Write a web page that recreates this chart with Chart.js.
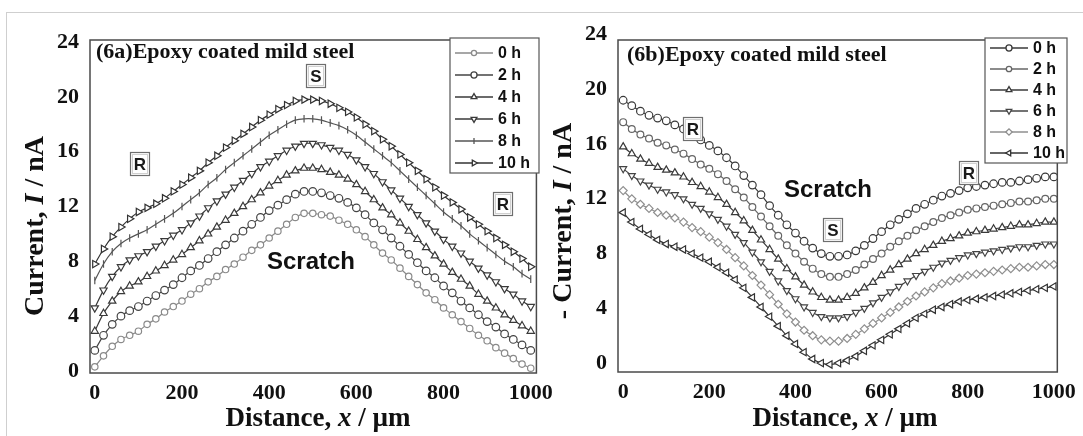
<!DOCTYPE html>
<html>
<head>
<meta charset="utf-8">
<script src="https://cdn.jsdelivr.net/npm/chart.js@4"></script>
<style>
  body { margin: 0; background: #fff; }
  #wrap { position: relative; width: 1083px; height: 436px; overflow: hidden; background: #fff; }
  #frame { position: absolute; left: 6px; top: 12px; width: 1100px; height: 500px; border: 1px solid #cfcfcf; }
  canvas { position: absolute; top: 0; }
</style>
</head>
<body>
<div id="wrap">
  <div id="frame"></div>
  <canvas id="chartA" width="560" height="436" style="left:0px"></canvas>
  <canvas id="chartB" width="538" height="436" style="left:545px"></canvas>
</div>
<script>
// distance along the scan, µm
const distance = [0, 20, 40, 60, 80, 100, 120, 140, 160, 180, 200, 220, 240, 260, 280, 300, 320, 340, 360, 380,
  400, 420, 440, 460, 480, 500, 520, 540, 560, 580, 600, 620, 640, 660, 680, 700, 720, 740, 760, 780,
  800, 820, 840, 860, 880, 900, 920, 940, 960, 980, 1000];
const hours = ["0 h", "2 h", "4 h", "6 h", "8 h", "10 h"];
const yTicks = [0, 4, 8, 12, 16, 20, 24];
const xTicks = [0, 200, 400, 600, 800, 1000];

// (6a) current, nA
const a0h = [0.3, 1.1, 1.8, 2.3, 2.6, 2.9, 3.4, 3.8, 4.3, 4.7, 5.1, 5.6, 6.0, 6.5, 6.9, 7.4, 7.8, 8.3, 8.8, 9.2,
  9.7, 10.2, 10.7, 11.2, 11.5, 11.5, 11.4, 11.3, 11.0, 10.7, 10.3, 9.8, 9.2, 8.6, 8.1, 7.5, 6.9, 6.3, 5.7, 5.2,
  4.6, 4.1, 3.6, 3.1, 2.6, 2.2, 1.7, 1.3, 0.9, 0.5, 0.2];
const a2h = [1.5, 2.6, 3.4, 4.0, 4.4, 4.7, 5.1, 5.5, 5.9, 6.3, 6.8, 7.3, 7.7, 8.2, 8.7, 9.2, 9.7, 10.2, 10.7, 11.2,
  11.7, 12.1, 12.5, 12.9, 13.1, 13.1, 13.0, 12.8, 12.6, 12.3, 11.9, 11.4, 10.8, 10.3, 9.7, 9.1, 8.5, 7.9, 7.3, 6.8,
  6.2, 5.7, 5.1, 4.6, 4.1, 3.6, 3.2, 2.7, 2.3, 1.9, 1.5];
const a4h = [2.9, 4.2, 5.1, 5.8, 6.2, 6.5, 6.9, 7.3, 7.7, 8.1, 8.5, 9.0, 9.5, 10.0, 10.5, 11.0, 11.5, 12.0, 12.5, 13.0,
  13.5, 13.9, 14.3, 14.6, 14.8, 14.8, 14.7, 14.5, 14.3, 14.0, 13.6, 13.1, 12.5, 11.9, 11.4, 10.8, 10.2, 9.6, 9.0, 8.4,
  7.8, 7.2, 6.7, 6.2, 5.6, 5.1, 4.6, 4.1, 3.7, 3.3, 2.9];
const a6h = [4.6, 5.9, 6.9, 7.6, 8.1, 8.4, 8.7, 9.1, 9.5, 9.9, 10.3, 10.8, 11.3, 11.9, 12.4, 12.9, 13.4, 13.9, 14.4, 14.9,
  15.3, 15.7, 16.1, 16.4, 16.6, 16.6, 16.5, 16.3, 16.1, 15.8, 15.4, 14.9, 14.4, 13.8, 13.2, 12.6, 12.0, 11.4, 10.8, 10.2,
  9.6, 9.1, 8.6, 8.0, 7.5, 7.0, 6.5, 6.0, 5.6, 5.1, 4.7];
const a8h = [6.6, 7.8, 8.7, 9.3, 9.7, 10.0, 10.3, 10.7, 11.1, 11.5, 12.0, 12.5, 13.0, 13.6, 14.1, 14.7, 15.2, 15.7, 16.2, 16.7,
  17.2, 17.6, 18.0, 18.3, 18.4, 18.4, 18.3, 18.1, 17.9, 17.6, 17.2, 16.7, 16.2, 15.7, 15.2, 14.6, 14.0, 13.4, 12.8, 12.2,
  11.6, 11.1, 10.6, 10.0, 9.5, 9.0, 8.5, 8.0, 7.6, 7.1, 6.7];
const a10h = [7.8, 8.9, 9.8, 10.5, 11.1, 11.6, 11.9, 12.2, 12.6, 13.1, 13.6, 14.1, 14.6, 15.2, 15.7, 16.3, 16.8, 17.3, 17.8, 18.3,
  18.7, 19.1, 19.4, 19.7, 19.8, 19.8, 19.7, 19.5, 19.2, 18.9, 18.5, 18.0, 17.5, 16.9, 16.4, 15.8, 15.2, 14.6, 14.0, 13.4,
  12.8, 12.3, 11.8, 11.2, 10.7, 10.2, 9.7, 9.2, 8.7, 8.2, 7.6];

// (6b) -current, nA
const b0h = [19.2, 18.8, 18.4, 18.1, 17.9, 17.7, 17.4, 17.1, 16.7, 16.3, 15.9, 15.5, 15.0, 14.4, 13.7, 13.0, 12.3, 11.5, 10.8, 10.1,
  9.5, 8.9, 8.4, 8.0, 7.8, 7.8, 7.9, 8.2, 8.6, 9.1, 9.6, 10.1, 10.5, 10.9, 11.3, 11.6, 11.9, 12.2, 12.4, 12.6,
  12.8, 12.9, 13.0, 13.1, 13.2, 13.2, 13.3, 13.4, 13.5, 13.6, 13.6];
const b2h = [17.6, 17.1, 16.7, 16.4, 16.1, 15.9, 15.6, 15.3, 14.9, 14.5, 14.2, 13.8, 13.3, 12.7, 12.1, 11.4, 10.7, 10.0, 9.3, 8.6,
  8.0, 7.4, 6.9, 6.5, 6.3, 6.3, 6.5, 6.8, 7.2, 7.6, 8.0, 8.5, 8.9, 9.3, 9.7, 10.0, 10.3, 10.6, 10.8, 11.0,
  11.2, 11.3, 11.4, 11.5, 11.6, 11.7, 11.8, 11.8, 11.9, 12.0, 12.0];
const b4h = [15.8, 15.3, 14.9, 14.6, 14.3, 14.1, 13.9, 13.6, 13.2, 12.9, 12.5, 12.1, 11.6, 11.0, 10.4, 9.7, 9.0, 8.3, 7.6, 6.9,
  6.3, 5.7, 5.2, 4.8, 4.6, 4.6, 4.8, 5.1, 5.5, 5.9, 6.4, 6.8, 7.2, 7.6, 8.0, 8.3, 8.6, 8.9, 9.1, 9.3,
  9.5, 9.6, 9.7, 9.8, 9.9, 10.0, 10.1, 10.1, 10.2, 10.3, 10.3];
const b6h = [14.2, 13.7, 13.3, 13.0, 12.7, 12.5, 12.3, 12.0, 11.6, 11.3, 10.9, 10.5, 10.0, 9.4, 8.8, 8.1, 7.4, 6.7, 6.0, 5.3,
  4.7, 4.1, 3.7, 3.4, 3.3, 3.3, 3.4, 3.7, 4.0, 4.4, 4.8, 5.2, 5.6, 6.0, 6.4, 6.7, 7.0, 7.3, 7.5, 7.7,
  7.9, 8.0, 8.1, 8.2, 8.3, 8.4, 8.5, 8.5, 8.6, 8.7, 8.7];
const b8h = [12.6, 12.0, 11.6, 11.3, 11.0, 10.8, 10.6, 10.3, 9.9, 9.6, 9.2, 8.8, 8.3, 7.7, 7.1, 6.4, 5.7, 5.0, 4.3, 3.6,
  3.0, 2.4, 2.0, 1.7, 1.6, 1.6, 1.8, 2.1, 2.5, 2.9, 3.3, 3.7, 4.1, 4.5, 4.9, 5.2, 5.5, 5.8, 6.0, 6.2,
  6.4, 6.5, 6.6, 6.7, 6.8, 6.9, 7.0, 7.0, 7.1, 7.2, 7.2];
const b10h = [11.0, 10.3, 9.8, 9.4, 9.0, 8.7, 8.5, 8.3, 8.0, 7.7, 7.4, 7.0, 6.6, 6.1, 5.5, 4.8, 4.1, 3.4, 2.7, 2.0,
  1.4, 0.8, 0.3, 0.0, -0.1, 0.0, 0.2, 0.5, 0.9, 1.3, 1.7, 2.1, 2.5, 2.9, 3.3, 3.6, 3.9, 4.1, 4.3, 4.5,
  4.6, 4.7, 4.8, 4.9, 5.0, 5.1, 5.2, 5.3, 5.4, 5.5, 5.6];

const seriesA = [a0h, a2h, a4h, a6h, a8h, a10h];
const seriesB = [b0h, b2h, b4h, b6h, b8h, b10h];

// marker styles per hour
const stylesA = [
  { color: "#8a8a8a", point: "circle", rot: 0, r: 3.2 },
  { color: "#444", point: "circle", rot: 0, r: 3.8 },
  { color: "#3a3a3a", point: "triangle", rot: 0, r: 4.2 },
  { color: "#3a3a3a", point: "triangle", rot: 180, r: 4.2 },
  { color: "#555", point: "line", rot: 90, r: 3.8 },
  { color: "#333", point: "triangle", rot: 90, r: 4.2 },
];
const stylesB = [
  { color: "#3a3a3a", point: "circle", rot: 0, r: 3.8 },
  { color: "#666", point: "circle", rot: 0, r: 3.4 },
  { color: "#3a3a3a", point: "triangle", rot: 0, r: 4.2 },
  { color: "#444", point: "triangle", rot: 180, r: 4.0 },
  { color: "#8f8f8f", point: "rectRot", rot: 0, r: 4.0 },
  { color: "#333", point: "triangle", rot: 270, r: 4.2 },
];

const serif = '"Liberation Serif", "Times New Roman", serif';
const sans = '"Liberation Sans", Arial, sans-serif';

function drawRich(ctx, parts, x, y, vertical, size) {
  ctx.save();
  ctx.translate(x, y);
  if (vertical) ctx.rotate(-Math.PI / 2);
  ctx.textBaseline = "middle";
  ctx.textAlign = "left";
  let total = 0;
  parts.forEach(p => {
    ctx.font = (p.i ? "italic " : "") + "bold " + size + "px " + serif;
    p.w = ctx.measureText(p.t).width;
    total += p.w;
  });
  let cx = -total / 2;
  parts.forEach(p => {
    ctx.font = (p.i ? "italic " : "") + "bold " + size + "px " + serif;
    ctx.fillText(p.t, cx, 0);
    cx += p.w;
  });
  ctx.restore();
}

function drawBox(ctx, b) {
  const w = 19, h = 23;
  ctx.save();
  ctx.fillStyle = "#fff";
  ctx.fillRect(b.x - w / 2, b.y - h / 2, w, h);
  ctx.strokeStyle = "#6e6e6e";
  ctx.lineWidth = 1.2;
  ctx.strokeRect(b.x - w / 2, b.y - h / 2, w, h);
  ctx.strokeStyle = "#d0d0d0";
  ctx.lineWidth = 1;
  ctx.strokeRect(b.x - w / 2 + 2, b.y - h / 2 + 2, w - 4, h - 4);
  ctx.fillStyle = "#1a1a1a";
  ctx.font = "bold 17px " + sans;
  ctx.textAlign = "center";
  ctx.textBaseline = "middle";
  ctx.fillText(b.t, b.x, b.y + 1);
  ctx.restore();
}

function makeDecor(cfg) {
  return {
    id: "decor" + cfg.name,
    afterDraw(chart) {
      const ctx = chart.ctx, a = chart.chartArea;
      ctx.save();
      ctx.strokeStyle = "#4a4a4a";
      ctx.lineWidth = 1.5;
      ctx.strokeRect(a.left, a.top, a.right - a.left, a.bottom - a.top);

      ctx.fillStyle = "#111";
      ctx.font = "bold 22px " + serif;
      ctx.textAlign = "left";
      ctx.textBaseline = "middle";
      ctx.fillText(cfg.label, cfg.labelX, cfg.labelY);

      ctx.font = "bold 24px " + sans;
      ctx.textAlign = "center";
      ctx.fillText("Scratch", cfg.scratch[0], cfg.scratch[1]);
      cfg.boxes.forEach(b => drawBox(ctx, b));

      // legend
      const L = cfg.legend;
      ctx.fillStyle = "#fff";
      ctx.fillRect(L.x, L.y, L.w, L.h);
      ctx.strokeStyle = "#555";
      ctx.lineWidth = 1.2;
      ctx.strokeRect(L.x, L.y, L.w, L.h);
      chart.data.datasets.forEach((ds, i) => {
        const yy = L.y + L.first + i * L.step;
        ctx.strokeStyle = ds.borderColor;
        ctx.lineWidth = 1.3;
        ctx.beginPath();
        ctx.moveTo(L.x + 5, yy);
        ctx.lineTo(L.x + 5 + L.line, yy);
        ctx.stroke();
        ctx.fillStyle = "#fff";
        Chart.helpers.drawPoint(ctx, {
          pointStyle: ds.pointStyle, rotation: ds.pointRotation,
          radius: ds.pointRadius * 0.8, borderWidth: 1
        }, L.x + 5 + L.line / 2, yy);
        ctx.fillStyle = "#111";
        ctx.font = "bold 16px " + sans;
        ctx.textAlign = "left";
        ctx.fillText(ds.label, L.x + L.line + 10, yy + 1);
      });

      ctx.fillStyle = "#111";
      drawRich(ctx, cfg.yTitle, cfg.yTitlePos[0], cfg.yTitlePos[1], true, 28);
      drawRich(ctx, [{ t: "Distance, " }, { t: "x", i: true }, { t: " / µm" }], cfg.xTitlePos[0], cfg.xTitlePos[1], false, 27);
      ctx.restore();
    }
  };
}

function buildChart(id, series, styles, yMin, yMax, xMin, xMax, padRight, yWidth, xHeight, decor) {
  const ctx = document.getElementById(id).getContext("2d");
  return new Chart(ctx, {
    type: "line",
    data: {
      datasets: series.map((vals, i) => ({
        label: hours[i],
        data: distance.map((d, j) => ({ x: d, y: vals[j] })),
        borderColor: styles[i].color,
        borderWidth: 1.2,
        pointStyle: styles[i].point,
        pointRotation: styles[i].rot,
        pointRadius: styles[i].r,
        pointBorderWidth: 1.2,
        pointBackgroundColor: "#fff",
        pointBorderColor: styles[i].color,
        tension: 0.3,
      })),
    },
    options: {
      responsive: false,
      animation: false,
      devicePixelRatio: 1,
      layout: { padding: { top: 40, right: padRight, left: 0, bottom: 0 } },
      plugins: { legend: { display: false }, tooltip: { enabled: false } },
      scales: {
        x: {
          type: "linear",
          min: xMin, max: xMax,
          grid: { display: false, drawTicks: false },
          border: { display: false },
          afterBuildTicks: s => { s.ticks = xTicks.map(v => ({ value: v })); },
          afterFit: s => { s.height = xHeight; },
          ticks: {
            padding: 7, color: "#111", maxRotation: 0,
            font: { family: serif, size: 22, weight: "bold" },
            callback: v => String(v),
          },
        },
        y: {
          min: yMin, max: yMax,
          grid: { display: false, drawTicks: false },
          border: { display: false },
          afterBuildTicks: s => { s.ticks = yTicks.map(v => ({ value: v })); },
          afterFit: s => { s.width = yWidth; },
          ticks: {
            padding: 11, color: "#111",
            font: { family: serif, size: 22, weight: "bold" },
            callback: v => String(v),
          },
        },
      },
    },
    plugins: [makeDecor(decor)],
  });
}

buildChart("chartA", seriesA, stylesA, -0.15, 24.15, -11, 1013, 20, 90, 63, {
  name: "A",
  label: "(6a)Epoxy coated mild steel", labelX: 96, labelY: 52,
  scratch: [311, 262],
  boxes: [{ t: "S", x: 316, y: 76 }, { t: "R", x: 140, y: 164 }, { t: "R", x: 503, y: 204 }],
  legend: { x: 450, y: 38, w: 89, h: 135, first: 15, step: 22, line: 38 },
  yTitle: [{ t: "Current, " }, { t: "I", i: true }, { t: " / nA" }],
  yTitlePos: [36, 226],
  xTitlePos: [318, 419],
});

buildChart("chartB", seriesB, stylesB, -0.65, 23.6, -12, 1008, 16, 73, 64, {
  name: "B",
  label: "(6b)Epoxy coated mild steel", labelX: 82, labelY: 55,
  scratch: [283, 190],
  boxes: [{ t: "R", x: 148, y: 129 }, { t: "S", x: 288, y: 230 }, { t: "R", x: 424, y: 173 }],
  legend: { x: 440, y: 38, w: 82, h: 125, first: 10, step: 21, line: 38 },
  yTitle: [{ t: "- Current, " }, { t: "I", i: true }, { t: " / nA" }],
  yTitlePos: [19, 221],
  xTitlePos: [300, 419],
});
</script>
</body>
</html>
